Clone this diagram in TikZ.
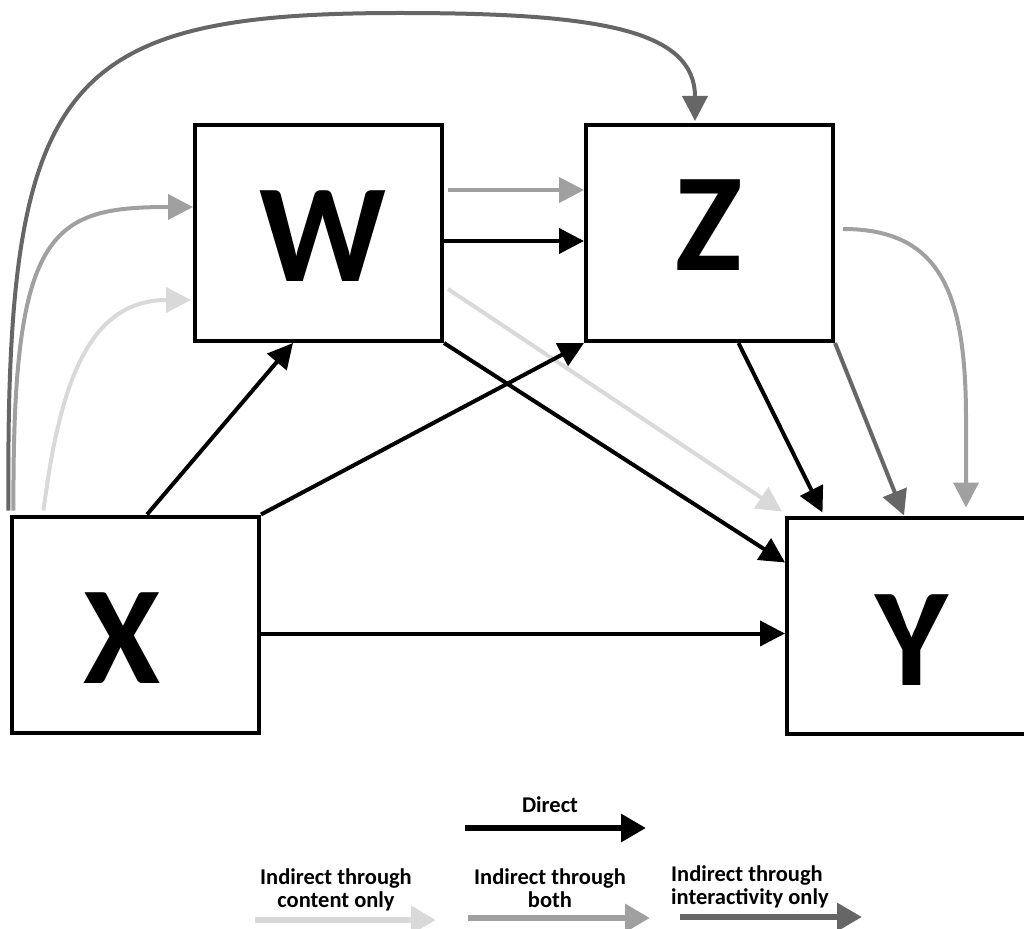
\documentclass[tikz,border=0pt]{standalone}
\usepackage{fontspec}
\setmainfont{Carlito}
\usetikzlibrary{arrows.meta}

\definecolor{ccontent}{HTML}{D9D9D9}
\definecolor{cboth}{HTML}{A0A0A0}
\definecolor{cinter}{HTML}{666666}

\tikzset{
  box/.style={draw, line width=4pt, minimum width=247pt, minimum height=216pt, inner sep=0pt},
  letter/.style={font=\bfseries\fontsize{140}{142}\selectfont, inner sep=0pt},
  link/.style={line width=4pt, -{Triangle[length=25pt,width=25pt]}},
  direct/.style={link, draw=black},
  viaboth/.style={link, draw=cboth},
  viacontent/.style={link, draw=ccontent},
  viainter/.style={link, draw=cinter},
  keyarrow/.style={line width=6.5pt, -{Triangle[length=25pt,width=27pt]}},
  keytext/.style={font=\bfseries\fontsize{22.5}{23.5}\selectfont, inner sep=0pt},
}

\begin{document}
\begin{tikzpicture}[x=1pt,y=-1pt]
\useasboundingbox (0,0) rectangle (1024,928);

% boxes
\node[box] (W) at (318.5,233) {};
\node[box] (Z) at (709.5,233) {};
\node[box] (X) at (135.5,624.5) {};
\node[box] (Y) at (910.5,625.5) {};

% box letters
\node[letter] (Wl) at (322.5,236) {W};
\node[letter] (Zl) at (709,225) {Z};
\node[letter] (Xl) at (122,638) {X};
\node[letter] (Yl) at (912,640) {Y};

% curved paths out of X
\coordinate (top) at (400,13);
\draw[viainter] ([shift={(-1.5,-4)}]X.north west)
  .. controls (5,80) and (60,13) .. (top)
  .. controls (600,13) and (695,30) .. ([shift={(-14.5,-2)}]Z.north);
\draw[viaboth] ([shift={(3.5,-4)}]X.north west)
  .. controls (12,230) and (50,207) .. ([shift={(0,-26)}]W.west);
\draw[viacontent] ([shift={(33.5,-4)}]X.north west)
  .. controls (60,380) and (90,300) .. ([shift={(-2,67)}]W.west);

% straight paths
\draw[viacontent] ([shift={(4,56)}]W.east) -- ([shift={(-3,-4)}]Y.north west);
\draw[direct] ([shift={(11.5,0)}]X.north) -- ([shift={(-25.5,0)}]W.south);
\draw[direct] (X.north east) -- (Z.south west);
\draw[direct] ([shift={(0,9)}]X.east) -- ([shift={(0,8)}]Y.west);
\draw[viaboth] ([shift={(4,-43)}]W.east) -- ([shift={(0,-43)}]Z.west);
\draw[direct] ([shift={(0,8)}]W.east) -- ([shift={(0,8)}]Z.west);
\draw[direct] (W.south east) -- ([shift={(0,-63)}]Y.west);
\draw[direct] ([shift={(29,0)}]Z.south) -- ([shift={(-88,-3)}]Y.north);
\draw[viainter] (Z.south east) -- ([shift={(-6.5,0)}]Y.north);
\draw[viaboth] ([shift={(8,-4)}]Z.east)
  .. controls (942,229) and (966,295) .. (966,420)
  -- ([shift={(55.5,-8)}]Y.north);

% key
\node[keytext, anchor=north] (kd) at (550,797) {Direct};
\coordinate (kd1) at (465,828);
\coordinate (kd2) at (646,828);
\draw[keyarrow, draw=black] (kd1) -- (kd2);

\node[keytext, anchor=north, align=center] (kc) at (336,868) {Indirect through\\content only};
\coordinate (kc1) at (255,920);
\coordinate (kc2) at (436,920);
\draw[keyarrow, draw=ccontent] (kc1) -- (kc2);

\node[keytext, anchor=north, align=center] (kb) at (550,868) {Indirect through\\both};
\coordinate (kb1) at (468,918);
\coordinate (kb2) at (650,918);
\draw[keyarrow, draw=cboth] (kb1) -- (kb2);

\node[keytext, anchor=north west, align=left] (ki) at (671,865) {Indirect through\\interactivity only};
\coordinate (ki1) at (680,917);
\coordinate (ki2) at (862,917);
\draw[keyarrow, draw=cinter] (ki1) -- (ki2);
\end{tikzpicture}
\end{document}
